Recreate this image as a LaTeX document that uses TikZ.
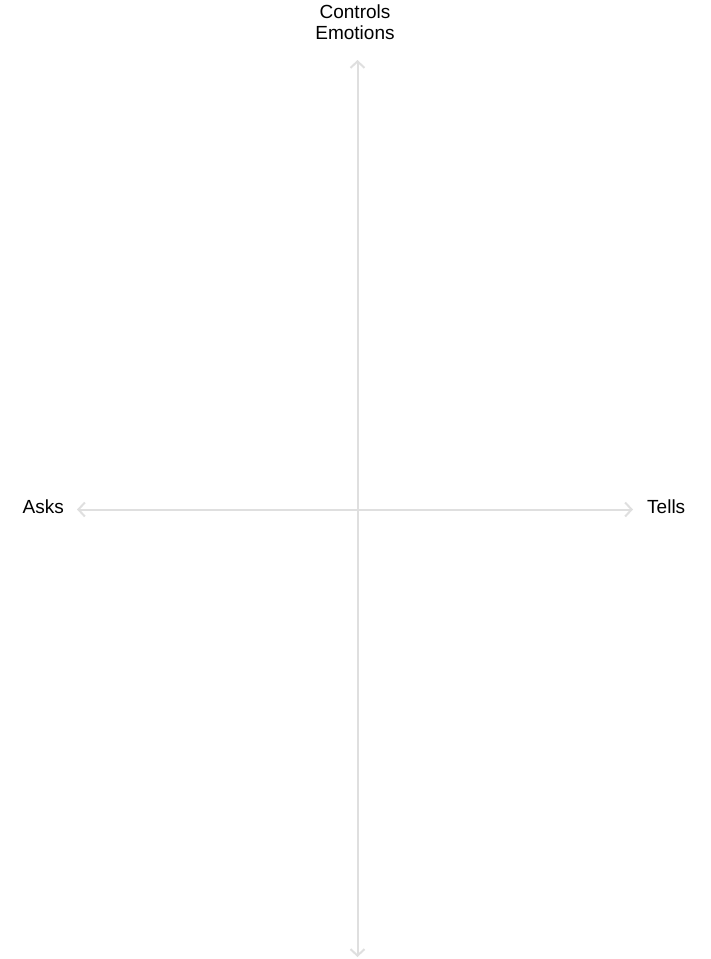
\documentclass[tikz,border=0pt]{standalone}
\usepackage{fontspec}
\setmainfont{Liberation Sans}
\usetikzlibrary{arrows.meta,positioning}
\definecolor{axisGray}{HTML}{DFDFDF}
\tikzset{
  axlabel/.style={font=\fontsize{19}{21}\selectfont, align=center, inner sep=0pt},
  axisline/.style={{Straight Barb[length=6.5pt,width=14pt]}-{Straight Barb[length=6.5pt,width=14pt]}, line width=2pt, draw=axisGray}
}
\begin{document}
\begin{tikzpicture}[x=1pt,y=-1pt]
  \useasboundingbox (0,0) rectangle (710,959);
  % labels
  \node[axlabel] (controls) at (355,22) {Controls\\Emotions};
  \node[axlabel, anchor=east] (asks) at (64,507) {Asks};
  \node[axlabel, anchor=west] (tells) at (647,507) {Tells};
  % axis ends
  \coordinate (top) at (357.5,60);
  \coordinate (bottom) at (357.5,957);
  \coordinate (left) at (77,509.5);
  \coordinate (right) at (633,509.5);
  \draw[axisline] (left) -- (right);
  \draw[axisline] (bottom) -- (top);
\end{tikzpicture}
\end{document}
